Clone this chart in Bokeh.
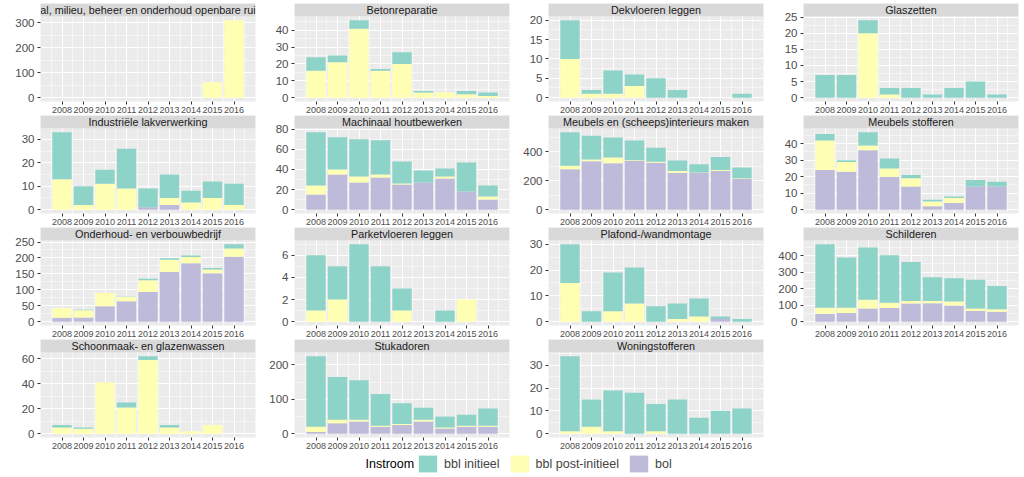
from bokeh.plotting import figure
from bokeh.layouts import column, row
from bokeh.models import Range1d, FixedTicker, Legend, LegendItem, Label, ColumnDataSource
from bokeh.core.properties import value
from bokeh.embed import file_html
from bokeh.resources import INLINE

years = [2008, 2009, 2010, 2011, 2012, 2013, 2014, 2015, 2016]
series_names = ["bbl initieel", "bbl post-initieel", "bol"]
series_colors = ["#8DD3C7", "#FFFFB3", "#BEBADA"]

# ---- data per panel (bol = bottom, post = middle, init = top) ----
groen_name = "al, milieu, beheer en onderhoud openbare rui"
groen_bol = [0, 0, 0, 0, 0, 0, 0, 0, 0]
groen_post = [0, 0, 0, 0, 0, 0, 0, 62, 310]
groen_init = [0, 0, 0, 0, 0, 0, 0, 0, 0]
groen_ticks = [0, 100, 200, 300]

beton_name = "Betonreparatie"
beton_bol = [0, 0, 0, 0, 0, 0, 0, 0, 0]
beton_post = [16, 21, 41, 16, 20, 3, 3, 2, 1]
beton_init = [8, 4, 5, 1, 7, 1, 0, 2, 2]
beton_ticks = [0, 10, 20, 30, 40]

dek_name = "Dekvloeren leggen"
dek_bol = [0, 0, 0, 0, 0, 0, 0, 0, 0]
dek_post = [10, 1, 1, 3, 0, 0, 0, 0, 0]
dek_init = [10, 1, 6, 3, 5, 2, 0, 0, 1]
dek_ticks = [0, 5, 10, 15, 20]

glas_name = "Glaszetten"
glas_bol = [0, 0, 0, 0, 0, 0, 0, 0, 0]
glas_post = [0, 0, 20, 1, 0, 0, 0, 0, 0]
glas_init = [7, 7, 4, 2, 3, 1, 3, 5, 1]
glas_ticks = [0, 5, 10, 15, 20, 25]

lak_name = "Industriële lakverwerking"
lak_bol = [0, 0, 0, 0, 1, 2, 0, 0, 0]
lak_post = [13, 2, 11, 9, 0, 3, 3, 5, 2]
lak_init = [20, 8, 6, 17, 8, 10, 5, 7, 9]
lak_ticks = [0, 10, 20, 30]

hout_name = "Machinaal houtbewerken"
hout_bol = [15, 35, 27, 32, 25, 27, 31, 18, 10]
hout_post = [9, 5, 6, 3, 1, 0, 2, 0, 3]
hout_init = [53, 32, 37, 34, 22, 12, 8, 29, 11]
hout_ticks = [0, 20, 40, 60, 80]

meub_name = "Meubels en (scheeps)interieurs maken"
meub_bol = [280, 335, 322, 338, 326, 256, 256, 268, 214]
meub_post = [25, 12, 40, 5, 6, 12, 2, 7, 3]
meub_init = [232, 165, 138, 137, 98, 73, 57, 90, 75]
meub_ticks = [0, 200, 400]

stof_name = "Meubels stofferen"
stof_bol = [24, 23, 36, 20, 14, 2, 4, 14, 14]
stof_post = [18, 6, 3, 5, 5, 3, 3, 0, 0]
stof_init = [4, 1, 8, 6, 2, 1, 1, 4, 3]
stof_ticks = [0, 10, 20, 30, 40]

onder_name = "Onderhoud- en verbouwbedrijf"
onder_bol = [12, 13, 48, 64, 93, 156, 183, 152, 204]
onder_post = [30, 23, 42, 13, 37, 38, 20, 12, 26]
onder_init = [0, 1, 0, 1, 5, 5, 5, 4, 13]
onder_ticks = [0, 50, 100, 150, 200, 250]

park_name = "Parketvloeren leggen"
park_bol = [0, 0, 0, 0, 0, 0, 0, 0, 0]
park_post = [1, 2, 0, 0, 1, 0, 0, 2, 0]
park_init = [5, 3, 7, 5, 2, 0, 1, 0, 0]
park_ticks = [0, 2, 4, 6]

plaf_name = "Plafond-/wandmontage"
plaf_bol = [0, 0, 0, 0, 0, 0, 0, 1, 0]
plaf_post = [15, 0, 4, 7, 0, 1, 2, 0, 0]
plaf_init = [15, 4, 15, 14, 6, 6, 7, 1, 1]
plaf_ticks = [0, 10, 20, 30]

schil_name = "Schilderen"
schil_bol = [48, 52, 80, 83, 110, 112, 98, 65, 60]
schil_post = [37, 33, 53, 32, 15, 13, 25, 15, 15]
schil_init = [385, 305, 317, 288, 237, 145, 140, 175, 142]
schil_ticks = [0, 100, 200, 300, 400]

schoon_name = "Schoonmaak- en glazenwassen"
schoon_bol = [0, 0, 0, 0, 0, 0, 0, 0, 0]
schoon_post = [5, 4, 41, 21, 59, 5, 2, 7, 0]
schoon_init = [2, 1, 0, 4, 3, 2, 0, 0, 0]
schoon_ticks = [0, 20, 40, 60]

stuk_name = "Stukadoren"
stuk_bol = [5, 30, 35, 20, 25, 35, 15, 20, 20]
stuk_post = [15, 10, 5, 3, 3, 5, 3, 3, 3]
stuk_init = [205, 125, 115, 92, 60, 35, 32, 32, 50]
stuk_ticks = [0, 100, 200]

won_name = "Woningstofferen"
won_bol = [0, 0, 0, 0, 0, 0, 0, 0, 0]
won_post = [1, 3, 1, 0, 1, 0, 0, 0, 0]
won_init = [33, 12, 18, 18, 12, 15, 7, 10, 11]
won_ticks = [0, 10, 20, 30]

panels = [
    (groen_name, groen_bol, groen_post, groen_init, groen_ticks),
    (beton_name, beton_bol, beton_post, beton_init, beton_ticks),
    (dek_name, dek_bol, dek_post, dek_init, dek_ticks),
    (glas_name, glas_bol, glas_post, glas_init, glas_ticks),
    (lak_name, lak_bol, lak_post, lak_init, lak_ticks),
    (hout_name, hout_bol, hout_post, hout_init, hout_ticks),
    (meub_name, meub_bol, meub_post, meub_init, meub_ticks),
    (stof_name, stof_bol, stof_post, stof_init, stof_ticks),
    (onder_name, onder_bol, onder_post, onder_init, onder_ticks),
    (park_name, park_bol, park_post, park_init, park_ticks),
    (plaf_name, plaf_bol, plaf_post, plaf_init, plaf_ticks),
    (schil_name, schil_bol, schil_post, schil_init, schil_ticks),
    (schoon_name, schoon_bol, schoon_post, schoon_init, schoon_ticks),
    (stuk_name, stuk_bol, stuk_post, stuk_init, stuk_ticks),
    (won_name, won_bol, won_post, won_init, won_ticks),
]

FONT = "Liberation Sans"
FW = 215      # panel width
STRIP = 13    # strip height
PANEL = 86    # panel height
BOTTOM = 13   # x axis area
LEFT = [40, 33, 33, 34]
RIGHT = 6
X0, X1 = 2007.0, 2017.0


def make_panel(name, bol, post, init, ticks, col, first_row):
    totals = [a + b + c for a, b, c in zip(bol, post, init)]
    top = max(totals)
    lo, hi = -0.05 * top, 1.05 * top
    strip_top = hi + (hi - lo) * STRIP / PANEL
    bt = 3 if first_row else 0
    p = figure(width=LEFT[col] + FW + RIGHT, height=bt + STRIP + PANEL + BOTTOM,
               x_range=Range1d(X0, X1), y_range=Range1d(lo, strip_top),
               min_border_left=LEFT[col], min_border_right=RIGHT, min_border_top=bt,
               min_border_bottom=BOTTOM, toolbar_location=None,
               output_backend="svg", background_fill_color="#EBEBEB",
               border_fill_color="white", outline_line_color=None)
    src = ColumnDataSource(dict(year=years, bol=bol, post=post, init=init))
    p.vbar_stack(["bol", "post", "init"], x="year", width=0.9, source=src,
                 fill_color=[series_colors[2], series_colors[1], series_colors[0]],
                 line_color=None)
    # facet strip
    p.quad(left=[X0], right=[X1], bottom=[hi], top=[strip_top],
           fill_color="#D9D9D9", line_color=None)
    p.text(x=[(X0 + X1) / 2], y=[(hi + strip_top) / 2], text=[name],
           text_align="center", text_baseline="middle",
           text_font=value(FONT), text_font_size="10.8px", text_color="#1A1A1A")

    step = ticks[1] - ticks[0]
    yminor = [t + step / 2 for t in ticks]
    xt = FixedTicker(ticks=years, minor_ticks=[y - 0.5 for y in years] + [years[-1] + 0.5])
    yt = FixedTicker(ticks=ticks, minor_ticks=yminor)
    p.xaxis.ticker = xt
    p.yaxis.ticker = yt
    p.xgrid.ticker = xt
    p.ygrid.ticker = yt
    for g in (p.xgrid, p.ygrid):
        g.grid_line_color = "white"
        g.grid_line_width = 1.1
        g.minor_grid_line_color = "white"
        g.minor_grid_line_width = 0.5
    for ax in (p.xaxis, p.yaxis):
        ax.axis_line_color = None
        ax.major_tick_line_color = "#333333"
        ax.major_tick_in = 0
        ax.major_tick_out = 3
        ax.minor_tick_line_color = None
        ax.major_label_text_color = "#4D4D4D"
        ax.major_label_text_font = FONT
    p.xaxis.major_label_text_font_size = "9px"
    p.xaxis.major_label_standoff = 1
    p.yaxis.major_label_text_font_size = "11.5px"
    p.yaxis.major_label_standoff = 2
    return p


figs = [make_panel(n, b, po, i, t, k % 4, k < 4) for k, (n, b, po, i, t) in enumerate(panels)]
rows = [row(*figs[i:i + 4]) for i in range(0, len(figs), 4)]

# legend
lf = figure(width=1024, height=26, x_range=Range1d(0, 1), y_range=Range1d(0, 1),
            x_axis_type=None, y_axis_type=None, min_border=0,
            toolbar_location=None, output_backend="svg", outline_line_color=None)
lf.grid.visible = False
items = []
for nm, c in zip(series_names, series_colors):
    # proxy glyph kept outside the visible range, used only for the legend key
    r = lf.vbar(x=[5], top=[1], width=0.9, fill_color=c, line_color=None)
    items.append(LegendItem(label=nm, renderers=[r]))
leg = Legend(items=items, orientation="horizontal", location=(416, 3),
             glyph_width=23, glyph_height=21, label_text_font=FONT,
             label_text_font_size="12.5px", label_standoff=5, spacing=8,
             padding=0, margin=0, border_line_color=None,
             background_fill_alpha=0)
lf.add_layout(leg, "center")
lf.add_layout(Label(x=365, y=13.5, x_units="screen", y_units="screen",
                    text="Instroom", text_font=FONT, text_font_size="12.5px",
                    text_baseline="middle", text_color="black"))

layout = column(*rows, lf)
open("out.html", "w").write(file_html(layout, INLINE))
